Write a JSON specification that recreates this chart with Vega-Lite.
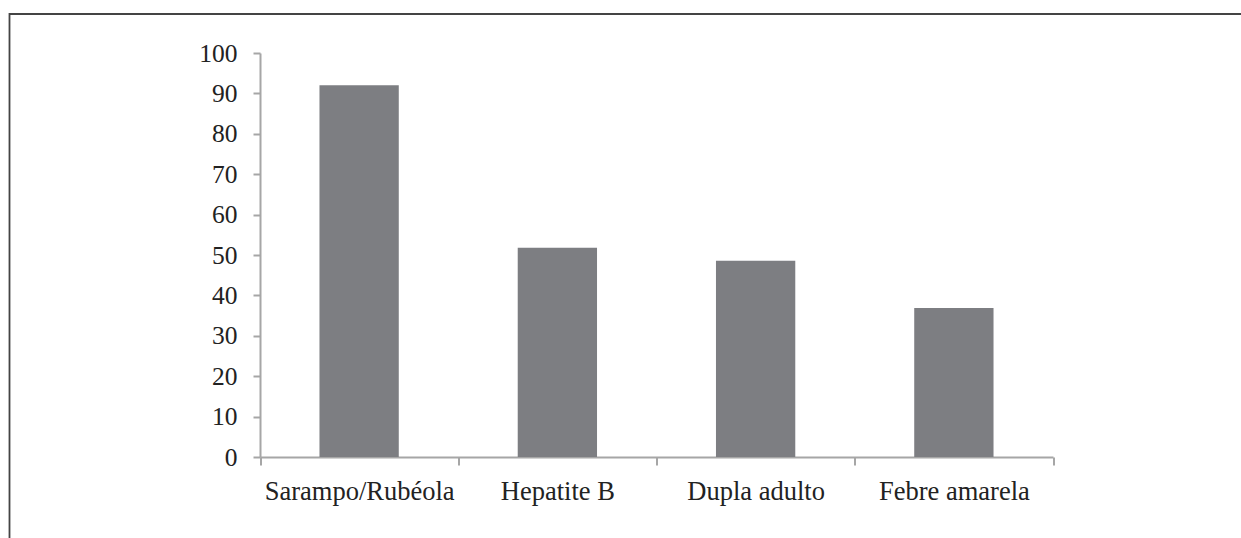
{
  "$schema": "https://vega.github.io/schema/vega-lite/v6.json",
  "autosize": {"type": "none"},
  "padding": {"left": 9.5, "top": 14, "right": 0, "bottom": 0},
  "width": 1260,
  "height": 560,
  "background": "white",
  "config": {
    "view": {"stroke": "#444444", "strokeWidth": 1.8},
    "font": "Liberation Serif"
  },
  "data": {
    "values": [
      {"vacina": "Sarampo/Rubéola", "valor": 92},
      {"vacina": "Hepatite B", "valor": 51.8},
      {"vacina": "Dupla adulto", "valor": 48.6},
      {"vacina": "Febre amarela", "valor": 36.9}
    ]
  },
  "mark": {"type": "bar", "color": "#7d7e82", "width": {"band": 0.4}},
  "encoding": {
    "x": {
      "field": "vacina",
      "type": "nominal",
      "sort": null,
      "scale": {"range": [250.5, 1043.5], "paddingInner": 0, "paddingOuter": 0},
      "axis": {
        "title": null,
        "orient": "bottom",
        "offset": -117,
        "labelAngle": 0,
        "labelFont": "Liberation Serif",
        "labelFontSize": 26.5,
        "labelColor": "#222222",
        "labelPadding": 13,
        "labelLimit": 400,
        "labelOverlap": false,
        "tickBand": "extent",
        "tickSize": 8,
        "tickColor": "#a6a6a6",
        "tickWidth": 2,
        "domainColor": "#a6a6a6",
        "domainWidth": 2,
        "grid": false
      }
    },
    "y": {
      "field": "valor",
      "type": "quantitative",
      "scale": {"domain": [0, 100], "range": [443, 39], "nice": false},
      "axis": {
        "title": null,
        "orient": "left",
        "offset": -250.5,
        "values": [0, 10, 20, 30, 40, 50, 60, 70, 80, 90, 100],
        "labelFont": "Liberation Serif",
        "labelFontSize": 25.5,
        "labelColor": "#222222",
        "labelPadding": 16,
        "tickSize": 7,
        "tickColor": "#a6a6a6",
        "tickWidth": 2,
        "domainColor": "#a6a6a6",
        "domainWidth": 2,
        "grid": false
      }
    }
  }
}
